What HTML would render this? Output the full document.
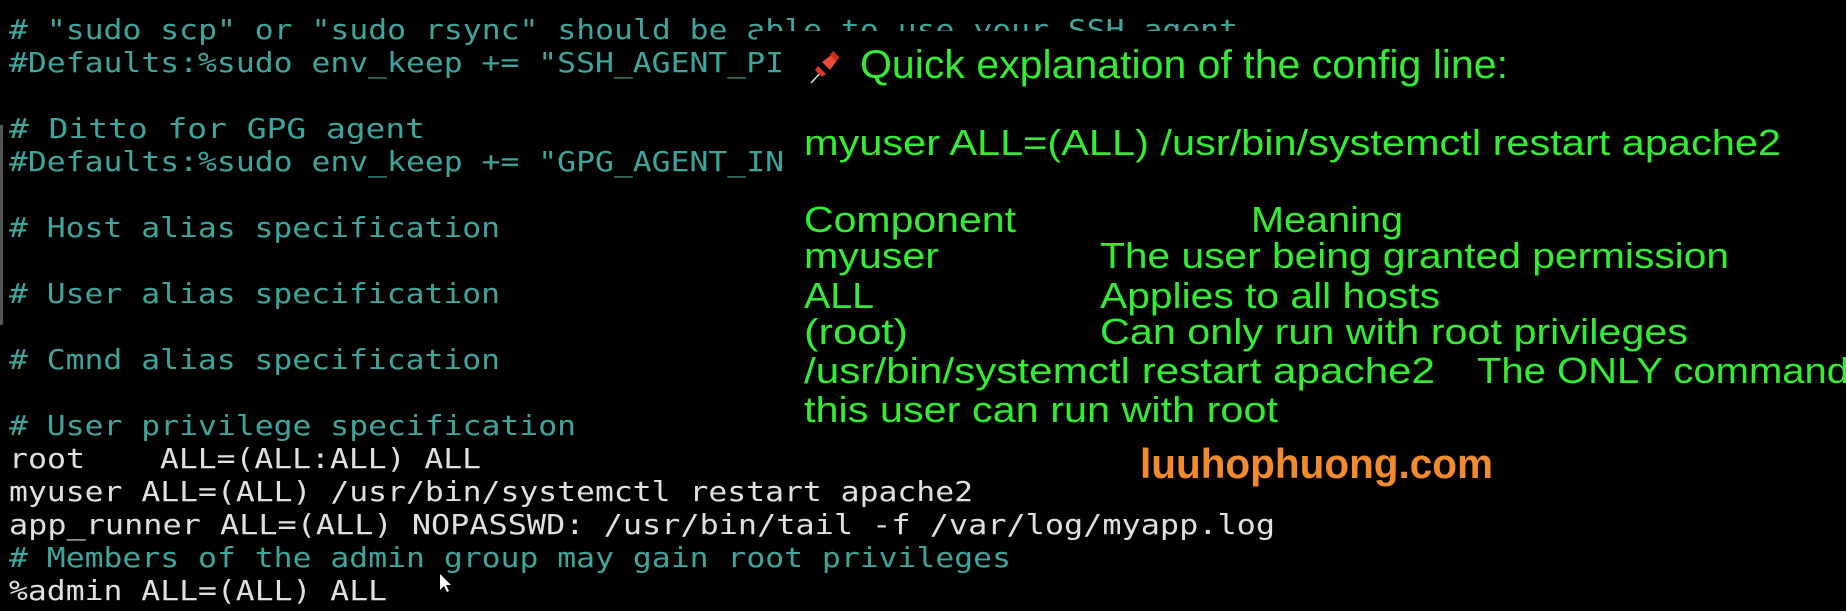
<!DOCTYPE html>
<html><head><meta charset="utf-8"><style>
html,body{margin:0;padding:0;background:#000;width:1846px;height:611px;overflow:hidden}
svg{display:block}
.m{font-family:"DejaVu Sans Mono","Liberation Mono",monospace;font-size:28px}
.c{fill:#3ea59c}.w{fill:#e0e0e0}
.g{font-family:"Liberation Sans",sans-serif;fill:#33ec33}
</style></head><body>
<svg width="1846" height="611" viewBox="0 0 1846 611">
<rect width="1846" height="611" fill="#000"/>
<g class="m">
<text class="c" x="9" y="39" textLength="1229" lengthAdjust="spacingAndGlyphs"># "sudo scp" or "sudo rsync" should be able to use your SSH agent</text>
<rect x="757" y="31" width="1089" height="14" fill="#000"/>
<text class="c" x="9" y="72" textLength="775" lengthAdjust="spacingAndGlyphs">#Defaults:%sudo env_keep += "SSH_AGENT_PI</text>
<text class="c" x="9" y="138" textLength="416" lengthAdjust="spacingAndGlyphs"># Ditto for GPG agent</text>
<text class="c" x="9" y="171" textLength="775" lengthAdjust="spacingAndGlyphs">#Defaults:%sudo env_keep += "GPG_AGENT_IN</text>
<text class="c" x="9" y="237" textLength="491" lengthAdjust="spacingAndGlyphs"># Host alias specification</text>
<text class="c" x="9" y="303" textLength="491" lengthAdjust="spacingAndGlyphs"># User alias specification</text>
<text class="c" x="9" y="369" textLength="491" lengthAdjust="spacingAndGlyphs"># Cmnd alias specification</text>
<text class="c" x="9" y="435" textLength="567" lengthAdjust="spacingAndGlyphs"># User privilege specification</text>
<text class="w" x="9" y="468" textLength="76" lengthAdjust="spacingAndGlyphs">root</text>
<text class="w" x="160" y="468" textLength="321" lengthAdjust="spacingAndGlyphs">ALL=(ALL:ALL) ALL</text>
<text class="w" x="9" y="501" textLength="964" lengthAdjust="spacingAndGlyphs">myuser ALL=(ALL) /usr/bin/systemctl restart apache2</text>
<text class="w" x="9" y="534" textLength="1266" lengthAdjust="spacingAndGlyphs">app_runner ALL=(ALL) NOPASSWD: /usr/bin/tail -f /var/log/myapp.log</text>
<text class="c" x="9" y="567" textLength="1002" lengthAdjust="spacingAndGlyphs"># Members of the admin group may gain root privileges</text>
<text class="w" x="9" y="600" textLength="378" lengthAdjust="spacingAndGlyphs">%admin ALL=(ALL) ALL</text>
</g>
<rect x="0" y="125" width="3" height="200" fill="#555"/>
<path d="M440 574 L440 590 L444 586 L447 592 L449 591 L446 585 L451 585 Z" fill="#fff"/>
<g>
<line x1="811" y1="83" x2="822" y2="71" stroke="#ddd" stroke-width="1.5"/>
<path d="M818 66 L826 74 L822 77 L815 70 Z" fill="#d83a2a"/>
<path d="M822 62 L834 53 L839 58 L830 70 Z" fill="#e84a34"/>
<rect x="830" y="53" width="9" height="5" transform="rotate(45 834 56)" fill="#c8301f"/>
</g>
<g class="g" font-size="36">
<text x="860" y="78" font-size="40" textLength="648" lengthAdjust="spacingAndGlyphs">Quick explanation of the config line:</text>
<text x="804" y="155" textLength="977" lengthAdjust="spacingAndGlyphs">myuser ALL=(ALL) /usr/bin/systemctl restart apache2</text>
<text x="804" y="232" textLength="212" lengthAdjust="spacingAndGlyphs">Component</text>
<text x="1251" y="232" textLength="152" lengthAdjust="spacingAndGlyphs">Meaning</text>
<text x="804" y="268" textLength="135" lengthAdjust="spacingAndGlyphs">myuser</text>
<text x="1100" y="268" textLength="629" lengthAdjust="spacingAndGlyphs">The user being granted permission</text>
<text x="804" y="308" textLength="70" lengthAdjust="spacingAndGlyphs">ALL</text>
<text x="1100" y="308" textLength="340" lengthAdjust="spacingAndGlyphs">Applies to all hosts</text>
<text x="804" y="344" textLength="104" lengthAdjust="spacingAndGlyphs">(root)</text>
<text x="1100" y="344" textLength="588" lengthAdjust="spacingAndGlyphs">Can only run with root privileges</text>
<text x="804" y="383" textLength="631" lengthAdjust="spacingAndGlyphs">/usr/bin/systemctl restart apache2</text>
<text x="1477" y="383" textLength="372" lengthAdjust="spacingAndGlyphs">The ONLY command</text>
<text x="804" y="422" textLength="474" lengthAdjust="spacingAndGlyphs">this user can run with root</text>
</g>
<text x="1140" y="478" font-family="Liberation Sans,sans-serif" font-weight="bold" font-size="42" fill="#f28a2e" textLength="353" lengthAdjust="spacingAndGlyphs">luuhophuong.com</text>
</svg>
</body></html>
